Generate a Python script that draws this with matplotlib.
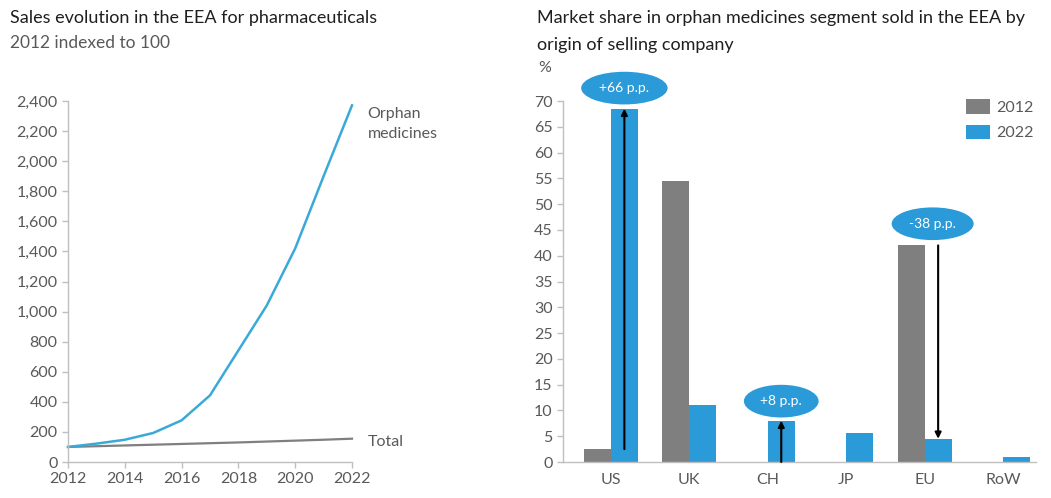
import matplotlib
matplotlib.use("Agg")
import matplotlib.pyplot as plt

plt.rcParams['font.family'] = ['Lato', 'DejaVu Sans']

# Left chart data
years = [2012, 2013, 2014, 2015, 2016, 2017, 2018, 2019, 2020, 2021, 2022]
orphan = [100, 122, 148, 193, 277, 443, 742, 1041, 1420, 1900, 2371]
total = [100, 105, 110, 115, 120, 125, 130, 136, 142, 148, 155]
left_yticks = list(range(0, 2401, 200))
left_xticks = [2012, 2014, 2016, 2018, 2020, 2022]

# Right chart data
origins = ["US", "UK", "CH", "JP", "EU", "RoW"]
share_2012 = [2.5, 54.5, 0, 0, 42.0, 0]
share_2022 = [68.5, 11.0, 8.0, 5.7, 4.5, 0.9]
changes = ["+66 p.p.", "+8 p.p.", "-38 p.p."]
change_idx = [0, 2, 4]
right_yticks = list(range(0, 71, 5))

GRAY = "#7f7f7f"
BLUE = "#2a9bd8"
LINEBLUE = "#3aa9d9"
TXT = "#595959"
AX = "#bfbfbf"
TICKSIZE = 11.5

fig = plt.figure(figsize=(10.51, 4.98), dpi=100)

# ---------- Left chart ----------
ax1 = fig.add_axes([68/1051, 1-462/498, 284/1051, 361/498])
ax1.plot(years, total, color="#7f7f7f", lw=1.6, clip_on=False)
ax1.plot(years, orphan, color=LINEBLUE, lw=1.8, clip_on=False)
ax1.set_xlim(2012, 2022)
ax1.set_ylim(0, 2400)
ax1.set_yticks(left_yticks)
ax1.set_yticklabels([f"{v:,}" for v in left_yticks])
ax1.set_xticks(left_xticks)
for s in ["top", "right"]:
    ax1.spines[s].set_visible(False)
for s in ["left", "bottom"]:
    ax1.spines[s].set_color(AX)
    ax1.spines[s].set_linewidth(1.0)
ax1.tick_params(axis="both", colors=AX, labelcolor=TXT, labelsize=TICKSIZE, length=4, width=1)
ax1.text(2022.55, 2245, "Orphan\nmedicines", color=TXT, fontsize=TICKSIZE,
         va="center", ha="left", linespacing=1.55)
ax1.text(2022.55, total[-1] - 25, "Total", color=TXT, fontsize=TICKSIZE, va="center", ha="left")

fig.text(10/1051, 1-18/498, "Sales evolution in the EEA for pharmaceuticals",
         fontsize=13, color="#1f1f1f", va="center", ha="left")
fig.text(10/1051, 1-43/498, "2012 indexed to 100", fontsize=12.5, color=TXT,
         va="center", ha="left")

# ---------- Right chart ----------
ax2 = fig.add_axes([563/1051, 1-462/498, 473/1051, 361/498])
x = list(range(len(origins)))
w = 0.345
ax2.bar([i - w/2 for i in x], share_2012, width=w, color=GRAY, label="2012")
ax2.bar([i + w/2 for i in x], share_2022, width=w, color=BLUE, label="2022")
ax2.set_xlim(-0.61, 5.42)
ax2.set_ylim(0, 70)
ax2.set_yticks(right_yticks)
ax2.set_xticks(x)
ax2.set_xticklabels(origins)
for s in ["top", "right"]:
    ax2.spines[s].set_visible(False)
for s in ["left", "bottom"]:
    ax2.spines[s].set_color(AX)
    ax2.spines[s].set_linewidth(1.0)
ax2.tick_params(axis="y", colors=AX, labelcolor=TXT, labelsize=TICKSIZE, length=4, width=1)
ax2.tick_params(axis="x", length=0, labelcolor=TXT, labelsize=TICKSIZE, pad=8)

label_y = [72.5, 11.8, 46.2]
label_dx = [0.0, 0.0, -0.07]
for k, i in enumerate(change_idx):
    xa = i + w/2
    y0 = share_2012[i]
    y1 = share_2022[i]
    ax2.annotate("", xy=(xa, y1), xytext=(xa, y0),
                 arrowprops=dict(arrowstyle="-|>", color="black", lw=1.5,
                                 mutation_scale=9, shrinkA=0, shrinkB=0),
                 annotation_clip=False)
    ax2.text(xa + label_dx[k], label_y[k], changes[k], color="white", fontsize=10,
             ha="center", va="center", clip_on=False,
             bbox=dict(boxstyle="ellipse,pad=0.4", fc=BLUE, ec="none"))

leg = ax2.legend(loc="upper right", bbox_to_anchor=(1.025, 1.045), frameon=False,
                 fontsize=TICKSIZE, handlelength=1.5, handleheight=1.05, labelspacing=0.6,
                 handletextpad=0.35, labelcolor=TXT)

fig.text(537/1051, 1-18/498,
         "Market share in orphan medicines segment sold in the EEA by",
         fontsize=13, color="#1f1f1f", va="center", ha="left")
fig.text(537/1051, 1-45/498, "origin of selling company",
         fontsize=13, color="#1f1f1f", va="center", ha="left")
fig.text(538/1051, 1-68/498, "%", fontsize=TICKSIZE, color=TXT, va="center", ha="left")

fig.savefig("out.png", dpi=100, facecolor="white")
